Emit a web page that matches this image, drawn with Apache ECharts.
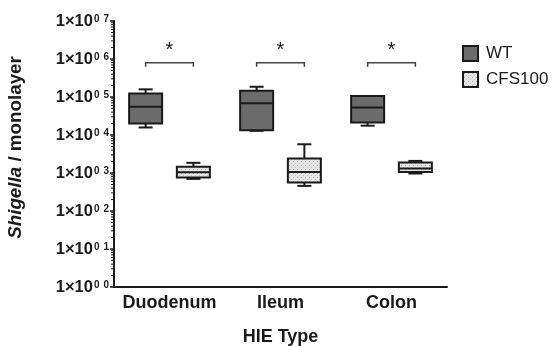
<!DOCTYPE html>
<html>
<head>
<meta charset="utf-8">
<script src="https://cdn.jsdelivr.net/npm/echarts@6/dist/echarts.min.js"></script>
<style>
  html, body { margin: 0; padding: 0; background: #fff; }
  #chart { width: 554px; height: 346px; }
</style>
</head>
<body>
<div id="chart"></div>
<script>
// categories and box values [min, q1, median, q3, max]
const categories = ['Duodenum', 'Ileum', 'Colon'];
const wtBoxes = [
  [1.58e4, 2.0e4, 5.5e4, 1.24e5, 1.59e5],
  [1.29e4, 1.34e4, 6.8e4, 1.46e5, 1.86e5],
  [1.76e4, 2.14e4, 5.3e4, 1.06e5, 1.06e5]
];
const cfsBoxes = [
  [700, 762, 1050, 1450, 1850],
  [458, 563, 1070, 2410, 5700],
  [971, 1070, 1320, 1890, 2080]
];
const yExponents = ['0', '1', '2', '3', '4', '5', '6', '7'];
// minor ticks of the log axis: mantissas inside each decade
const minorMantissas = [2, 3, 4, 5, 6, 7, 8, 9];
const minorDecades = [1, 10, 100, 1000, 1e4, 1e5, 1e6];
// significance brackets: bracket height and star height per category
const bracketY = [8e5, 8e5, 8e5];
const starY = [1.65e6, 1.65e6, 1.65e6];
const starText = ['*', '*', '*'];

const FONT = '"Liberation Sans", Arial, sans-serif';
const INK = '#1a1a1a';

// dotted light-grey fill for CFS100
const dots = document.createElement('canvas');
dots.width = 4; dots.height = 4;
const dctx = dots.getContext('2d');
dctx.fillStyle = '#e4e4e4';
dctx.fillRect(0, 0, 4, 4);
dctx.fillStyle = '#a6a6a6';
dctx.fillRect(1, 1, 1, 1);
dctx.fillStyle = '#c4c4c4';
dctx.fillRect(3, 3, 1, 1);

function boxRenderer(side) {
  return function (params, api) {
    const cat = api.value(0);
    const band = api.coord([1, 1])[0] - api.coord([0, 1])[0];
    const cx = api.coord([cat, 1])[0] + side * band * 0.215;
    const half = 16.5, cap = 7;
    const yMin = api.coord([cat, api.value(1)])[1];
    const yQ1 = api.coord([cat, api.value(2)])[1];
    const yMed = api.coord([cat, api.value(3)])[1];
    const yQ3 = api.coord([cat, api.value(4)])[1];
    const yMax = api.coord([cat, api.value(5)])[1];
    const st = api.style();
    const line = { stroke: INK, lineWidth: 2 };
    return {
      type: 'group',
      children: [
        { type: 'line', shape: { x1: cx, y1: yMax, x2: cx, y2: yQ3 }, style: line },
        { type: 'line', shape: { x1: cx - cap, y1: yMax, x2: cx + cap, y2: yMax }, style: line },
        { type: 'line', shape: { x1: cx, y1: yQ1, x2: cx, y2: yMin }, style: line },
        { type: 'line', shape: { x1: cx - cap, y1: yMin, x2: cx + cap, y2: yMin }, style: line },
        { type: 'rect', shape: { x: cx - half, y: yQ3, width: 2 * half, height: yQ1 - yQ3 },
          style: { fill: st.fill, stroke: INK, lineWidth: 2 } },
        { type: 'line', shape: { x1: cx - half, y1: yMed, x2: cx + half, y2: yMed }, style: line }
      ]
    };
  };
}

function sigRenderer(params, api) {
  const cat = api.value(0);
  const band = api.coord([1, 1])[0] - api.coord([0, 1])[0];
  const c = api.coord([cat, api.value(1)]);
  const off = band * 0.215;
  const yb = c[1];
  const ys = api.coord([cat, api.value(2)])[1];
  return {
    type: 'group',
    children: [
      { type: 'polyline',
        shape: { points: [[c[0] - off, yb + 4], [c[0] - off, yb], [c[0] + off, yb], [c[0] + off, yb + 4]] },
        style: { stroke: '#444', lineWidth: 1.5, fill: null } },
      { type: 'text',
        style: { x: c[0], y: ys, text: starText[params.dataIndex], fill: INK,
          font: '20px ' + FONT, align: 'center', verticalAlign: 'middle' } }
    ]
  };
}

// short tick to the left of the y axis at a log value
function minorTickRenderer(params, api) {
  const p = api.coord([0, api.value(0)]);
  const x0 = params.coordSys.x;
  return {
    type: 'line',
    shape: { x1: x0 - 3, y1: p[1], x2: x0, y2: p[1] },
    style: { stroke: INK, lineWidth: 1 }
  };
}

const minorValues = [];
minorDecades.forEach(d => minorMantissas.forEach(m => minorValues.push([m * d])));

const chart = echarts.init(document.getElementById('chart'));
chart.setOption({
  animation: false,
  grid: { left: 114, top: 21, right: 107, bottom: 59, outerBoundsMode: 'none', containLabel: false },
  legend: {
    data: ['WT', 'CFS100'],
    orient: 'vertical',
    left: 462,
    top: 45,
    padding: 0,
    icon: 'rect',
    itemWidth: 15,
    itemHeight: 15,
    itemGap: 9,
    textStyle: { fontFamily: FONT, fontSize: 17, color: INK, padding: [0, 0, 0, 3] }
  },
  xAxis: {
    type: 'category',
    data: categories,
    name: 'HIE Type',
    nameLocation: 'middle',
    nameGap: 41,
    nameTextStyle: { fontFamily: FONT, fontSize: 18, fontWeight: 'bold', color: INK },
    axisLine: { lineStyle: { color: INK, width: 2 } },
    axisTick: { alignWithLabel: true, length: 5, lineStyle: { color: INK, width: 2 } },
    axisLabel: { interval: 0, fontFamily: FONT, fontSize: 18, fontWeight: 'bold', color: INK, margin: 7 },
    splitLine: { show: false }
  },
  yAxis: {
    type: 'log',
    logBase: 10,
    min: 1,
    max: 1e7,
    interval: 1,
    name: '{i|Shigella} / monolayer',
    nameLocation: 'middle',
    nameRotate: 90,
    nameGap: 89,
    nameTextStyle: {
      fontFamily: FONT, fontSize: 18.8, fontWeight: 'bold', color: INK,
      padding: [0, 0, 0, 13],
      rich: { i: { fontFamily: FONT, fontSize: 18.8, fontWeight: 'bold', fontStyle: 'italic', color: INK } }
    },
    axisLine: { show: true, lineStyle: { color: INK, width: 2 } },
    axisTick: { show: true, length: 4, lineStyle: { color: INK, width: 1.5 } },
    splitLine: { show: false },
    axisLabel: {
      margin: 5,
      formatter: function (v) {
        const e = yExponents[Math.round(Math.log10(v))];
        return '{a|1×10}{b|0}{c|' + e + '}';
      },
      rich: {
        a: { fontFamily: FONT, fontSize: 16.5, fontWeight: 'bold', color: INK, verticalAlign: 'middle' },
        b: { fontFamily: FONT, fontSize: 10, fontWeight: 'bold', color: INK, padding: [0, 0, 4, 1], verticalAlign: 'middle' },
        c: { fontFamily: FONT, fontSize: 10, fontWeight: 'bold', color: INK, padding: [0, 0, 4, 4], verticalAlign: 'middle' }
      }
    }
  },
  series: [
    {
      name: 'WT',
      type: 'custom',
      renderItem: boxRenderer(-1),
      itemStyle: { color: '#6b6b6b', borderColor: INK, borderWidth: 2 },
      encode: { x: 0, y: [1, 2, 3, 4, 5] },
      data: wtBoxes.map((b, i) => [i].concat(b))
    },
    {
      name: 'CFS100',
      type: 'custom',
      renderItem: boxRenderer(1),
      itemStyle: { color: { image: dots, repeat: 'repeat' }, borderColor: INK, borderWidth: 2 },
      encode: { x: 0, y: [1, 2, 3, 4, 5] },
      data: cfsBoxes.map((b, i) => [i].concat(b))
    },
    {
      name: 'sig',
      type: 'custom',
      renderItem: sigRenderer,
      encode: { x: 0, y: [1, 2] },
      data: categories.map((c, i) => [i, bracketY[i], starY[i]])
    },
    {
      name: 'minorTicks',
      type: 'custom',
      renderItem: minorTickRenderer,
      clip: false,
      silent: true,
      encode: { y: 0 },
      data: minorValues
    }
  ]
});
</script>
</body>
</html>
